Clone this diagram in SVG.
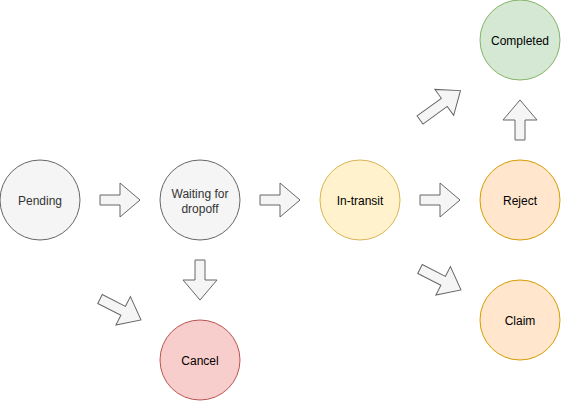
<svg xmlns="http://www.w3.org/2000/svg" width="561" height="401" viewBox="0 0 561 401">
<defs>
<style>
.n text{font-family:"Liberation Sans",Arial,Helvetica,sans-serif;font-size:12px;text-anchor:middle;dominant-baseline:central;fill:#000}
.gray circle{fill:#f5f5f5;stroke:#666666}
.gray text{fill:#333333}
.green circle{fill:#d5e8d4;stroke:#82b366}
.red circle{fill:#f8cecc;stroke:#b85450}
.yellow circle{fill:#fff2cc;stroke:#d6b656}
.orange circle{fill:#ffe6cc;stroke:#d79b00}
.arr{fill:#f5f5f5;stroke:#666666;stroke-width:1;stroke-linejoin:miter}
</style>
<path id="a40" d="M0,-5 H20 V-17 L40,0 L20,17 V5 H0 Z"/>
<path id="a46" d="M0,-5 H26 V-16 L46,0 L26,16 V5 H0 Z"/>
<path id="a50" d="M0,-5 H30 V-16 L50,0 L30,16 V5 H0 Z"/>
</defs>
<rect width="561" height="401" fill="#ffffff"/>
<g id="connectors">
<use href="#a40" class="arr" transform="translate(100,200)"/>
<use href="#a40" class="arr" transform="translate(260,200)"/>
<use href="#a40" class="arr" transform="translate(420,200)"/>
<use href="#a40" class="arr" transform="translate(520,140) rotate(-90)"/>
<use href="#a40" class="arr" transform="translate(200,260) rotate(90)"/>
<use href="#a50" class="arr" transform="translate(420,120) rotate(-36)"/>
<use href="#a46" class="arr" transform="translate(100,299) rotate(27)"/>
<use href="#a46" class="arr" transform="translate(420,269) rotate(27)"/>
</g>
<g id="pending" class="n gray"><circle cx="40" cy="200" r="40"/><text x="40" y="201">Pending</text></g>
<g id="waiting" class="n gray"><circle cx="200" cy="200" r="40"/><text x="200" y="194">Waiting for</text><text x="200" y="208.5">dropoff</text></g>
<g id="in-transit" class="n yellow"><circle cx="360" cy="200" r="40"/><text x="360" y="201">In-transit</text></g>
<g id="reject" class="n orange"><circle cx="520" cy="200" r="40"/><text x="520" y="201">Reject</text></g>
<g id="claim" class="n orange"><circle cx="520" cy="320" r="40"/><text x="520" y="321">Claim</text></g>
<g id="completed" class="n green"><circle cx="520" cy="40" r="40"/><text x="520" y="41">Completed</text></g>
<g id="cancel" class="n red"><circle cx="200" cy="360" r="40"/><text x="200" y="361">Cancel</text></g>
</svg>
